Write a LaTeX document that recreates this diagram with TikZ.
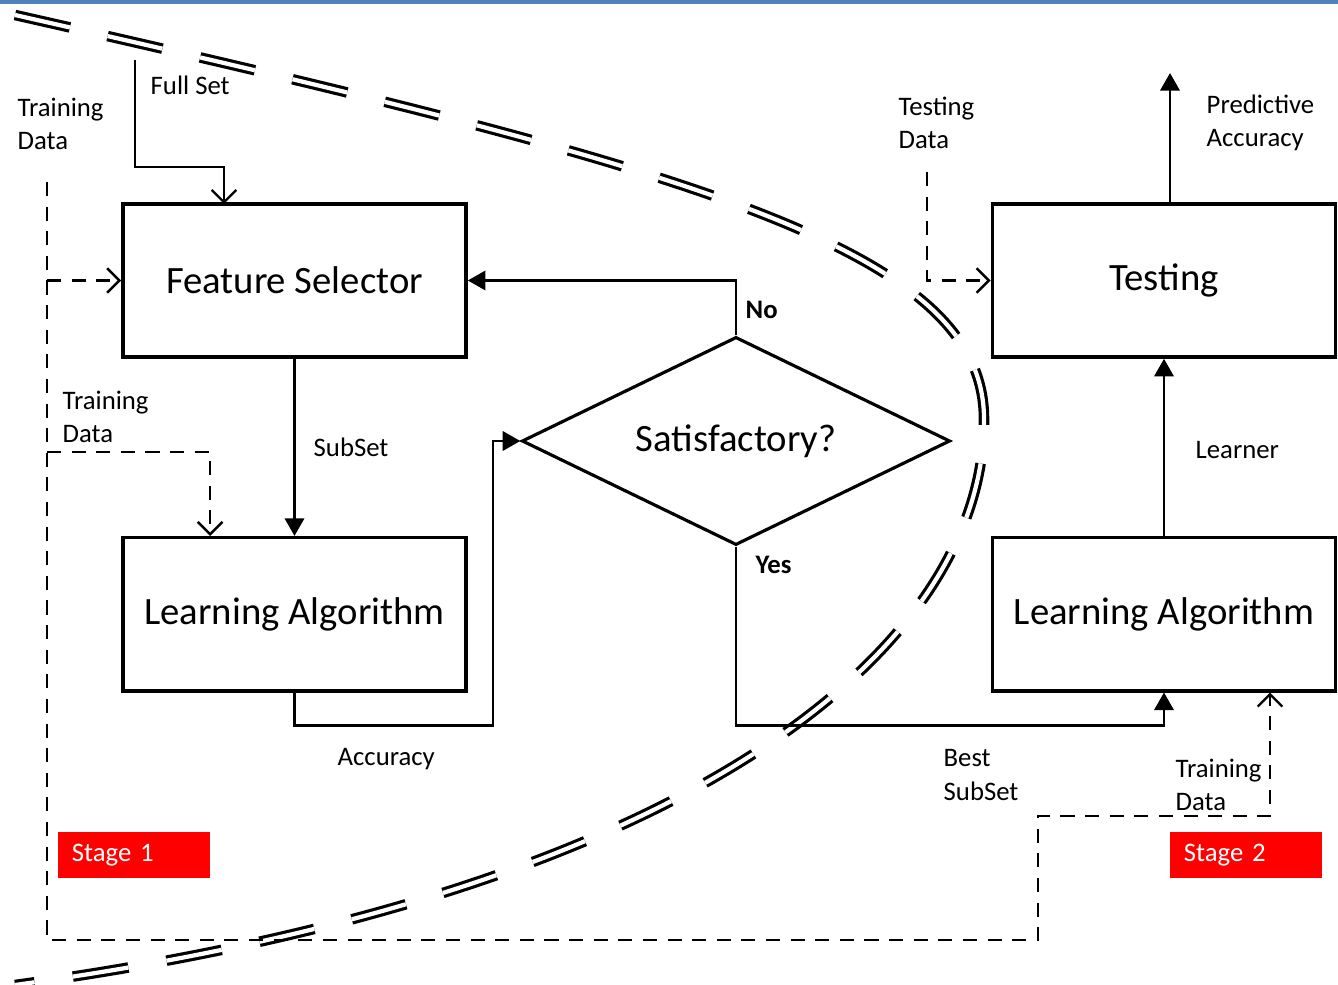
\documentclass[tikz,border=0pt]{standalone}
\usepackage{fontspec}
\setmainfont{Carlito}
\usepackage{xcolor}
\usepackage{tikz}
\usetikzlibrary{arrows.meta, positioning, shapes.geometric, calc}

\definecolor{barblue}{RGB}{79,129,189}
\newcommand{\lblfont}{\fontsize{7.6}{9.4}\selectfont}
\newcommand{\boxfont}{\fontsize{11}{13}\selectfont}

\begin{document}
\begin{tikzpicture}[x=0.01cm, y=-0.01cm, node distance=1.77cm,
  every node/.style={font=\lblfont},
  box/.style={draw, line width=1pt, minimum width=3.43cm, minimum height=1.53cm, font=\boxfont},
  lbl/.style={anchor=west, inner sep=0pt, align=left},
  stage/.style={fill=red, text=white, minimum height=0.46cm, inner xsep=0.14cm, text width=1.24cm, align=left},
  sline/.style={line width=0.7pt},
  dline/.style={line width=0.7pt, dash pattern=on 4pt off 3pt},
  fillarrow/.style={-{Triangle[length=5pt,width=5.5pt]}},
  openarrow/.style={-{Straight Barb[length=3.5pt,width=7pt]}},
  stagecurve/.style={double, line width=0.9pt, double distance=1.2pt, dash pattern=on 16pt off 11pt}]
  \useasboundingbox (0,0) rectangle (1338,985);
  \fill[barblue] (0,0) rectangle (1338,4);

  % stage border
  \draw[stagecurve] (15,15) .. controls (700,170) and (985,250) .. (984,420)
    .. controls (985,640) and (710,890) .. (15,985);

  % boxes
  \node[box] (fs) at (294.5,280.5) {Feature Selector};
  \node[box, below=of fs] (la) {Learning Algorithm};
  \node[box] (ts) at (1164,280.5) {Testing};
  \node[box, below=of ts] (lr) {Learning Algorithm};
  \node[draw, diamond, aspect=2.06, line width=0.9pt, minimum width=4.28cm, minimum height=2.08cm, inner sep=0pt, font=\boxfont] (sat) at (736,441) {Satisfactory?};
  \node[stage] (st1) at (134,855) {Stage 1};
  \node[stage] (st2) at (1246,855) {Stage 2};

  % free ends
  \coordinate (fullin) at (135,60);
  \coordinate (trtop) at (47,182);
  \coordinate (tdtop) at (927,172);
  \coordinate (paout) at (1170,73);

  % stage 1
  \draw[sline, openarrow] (fullin) |- ++(89,107) -- ++(0,37);
  \draw[dline, openarrow] (trtop) |- (1038,940) |- (1270,816) -- ($(lr.south)+(106,0)$);
  \draw[dline, openarrow] (fs.west -| trtop) -- (fs.west);
  \draw[dline, openarrow] ($(trtop)+(0,270)$) -| ($(la.north west)+(89,0)$);
  \draw[sline, fillarrow] (fs.south) -- (la.north);
  \draw[sline, fillarrow] (la.south) -- ++(0,33) -| (493,441) -- (sat.west);
  \draw[sline, fillarrow] (sat.north) |- (fs.east);

  % stage 2
  \draw[sline, fillarrow] (sat.south) |- ($(lr.south)+(0,33)$) -- (lr.south);
  \draw[sline, fillarrow] (lr.north) -- (ts.south);
  \draw[sline, fillarrow] (ts.north -| paout) -- (paout);
  \draw[dline, openarrow] (tdtop) |- (ts.west);

  % labels
  \node[lbl] (lfull) at (150,85) {Full Set};
  \node[lbl] (ltr1) at (17,124) {Training\\Data};
  \node[lbl] (ltr2) at (62,417) {Training\\Data};
  \node[lbl] (lsub) at (313,447) {SubSet};
  \node[lbl] (lacc) at (337,759) {Accuracy};
  \node[lbl, font=\lblfont\bfseries] (lno) at (745,310) {No};
  \node[lbl, font=\lblfont\bfseries] (lyes) at (755,565) {Yes};
  \node[lbl] (ltd) at (898,123) {Testing\\Data};
  \node[lbl] (lpa) at (1206,123) {Predictive\\Accuracy};
  \node[lbl] (llearn) at (1195,450) {Learner};
  \node[lbl] (lbest) at (943,775) {Best\\SubSet};
  \node[lbl] (ltr3) at (1175,785) {Training\\Data};
\end{tikzpicture}
\end{document}
